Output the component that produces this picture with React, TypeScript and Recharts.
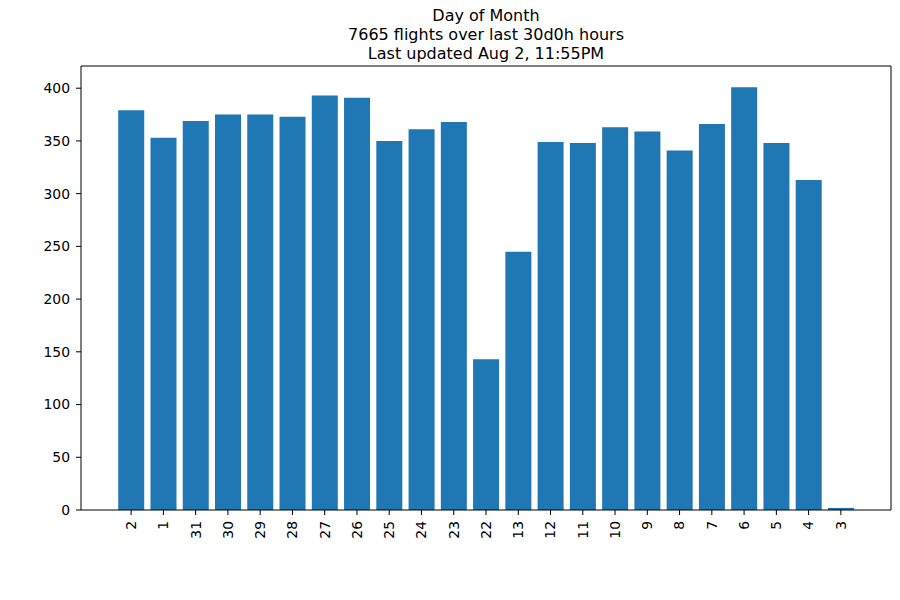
import React from 'react';
import { BarChart, Bar, XAxis, YAxis } from 'recharts';

// days in the order the source plot lists them (most recent first)
const days = ['2', '1', '31', '30', '29', '28', '27', '26', '25', '24', '23', '22', '13', '12', '11', '10', '9', '8', '7', '6', '5', '4', '3'];
const flights = [379, 353, 369, 375, 375, 373, 393, 391, 350, 361, 368, 143, 245, 349, 348, 363, 359, 341, 366, 401, 348, 313, 2];
const yTicks = [0, 50, 100, 150, 200, 250, 300, 350, 400];
const titleLines = ['Day of Month', '7665 flights over last 30d0h hours', 'Last updated Aug 2, 11:55PM'];

const data = days.map((day, i) => ({ day, flights: flights[i] }));

const FONT = '"DejaVu Sans", sans-serif';
const Y_DOMAIN: [number, number] = [0, 421.05];

const DayTick = (props: any) => {
    const { x, y, payload } = props;
    return (
        <g transform={`translate(${x},${y})`}>
            <text
                transform="rotate(-90)"
                textAnchor="end"
                dy="0.35em"
                fontSize={13.9}
                fontFamily={FONT}
                fill="#000"
            >
                {payload.value}
            </text>
        </g>
    );
};

export default function App() {
    return (
        <div style={{ position: 'absolute', left: 0, top: 0, width: 900, height: 600, background: '#fff' }}>
            <div
                style={{
                    position: 'absolute',
                    left: 81,
                    width: 810,
                    top: 7,
                    textAlign: 'center',
                    fontFamily: FONT,
                    fontSize: 16,
                    lineHeight: '18.8px',
                    color: '#000',
                }}
            >
                {titleLines.map((t) => (
                    <div key={t}>{t}</div>
                ))}
            </div>
            <BarChart
                width={900}
                height={600}
                data={data}
                margin={{ top: 65, right: 8, bottom: 30, left: 31 }}
                barCategoryGap="10%"
            >
                <XAxis
                    dataKey="day"
                    interval={0}
                    tick={<DayTick />}
                    tickSize={5}
                    tickMargin={6}
                    height={60}
                    stroke="#000"
                    padding={{ left: 34, right: 34 }}
                />
                <XAxis
                    xAxisId="top"
                    orientation="top"
                    dataKey="day"
                    tick={false}
                    tickLine={false}
                    height={1}
                    stroke="#000"
                    padding={{ left: 34, right: 34 }}
                />
                <YAxis
                    domain={Y_DOMAIN}
                    ticks={yTicks}
                    tickSize={5}
                    tickMargin={6}
                    width={50}
                    stroke="#000"
                    tick={{ fill: '#000', fontSize: 13.9, fontFamily: FONT }}
                />
                <YAxis
                    yAxisId="right"
                    orientation="right"
                    domain={Y_DOMAIN}
                    ticks={yTicks}
                    tick={false}
                    tickLine={false}
                    width={1}
                    stroke="#000"
                />
                <Bar dataKey="flights" fill="#1f77b4" isAnimationActive={false} />
            </BarChart>
        </div>
    );
}
